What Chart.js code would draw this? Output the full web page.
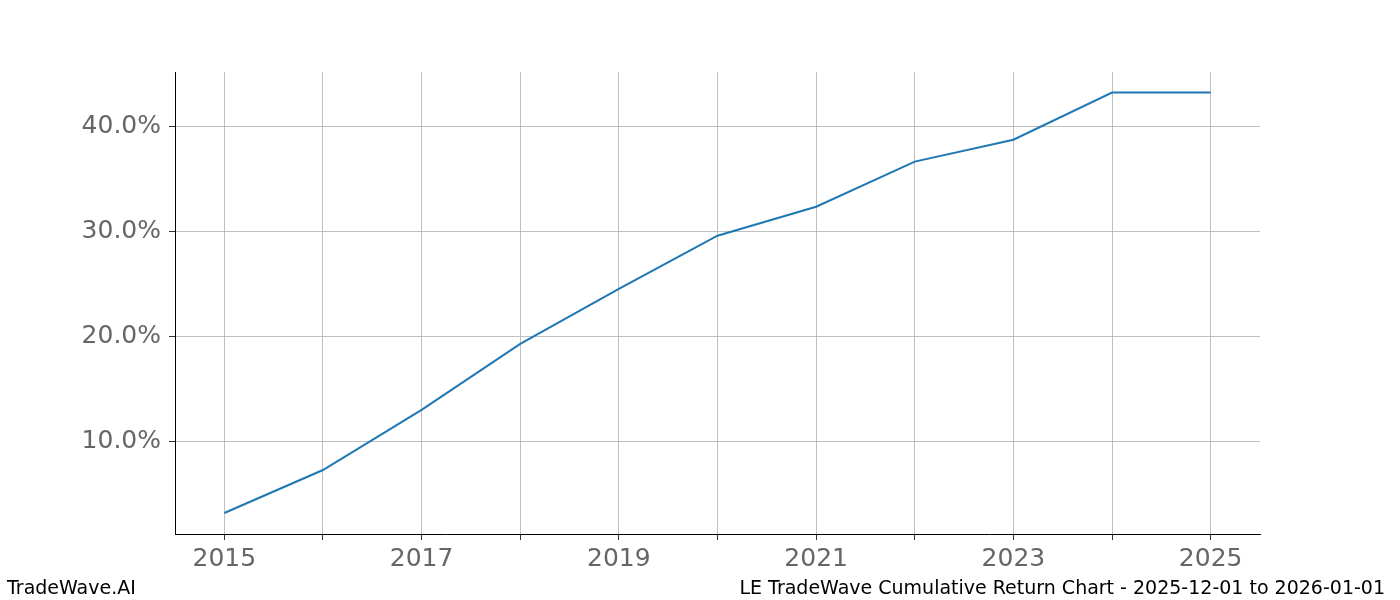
<!DOCTYPE html>
<html lang="en">
<head>
<meta charset="UTF-8" />
<title>LE Cumulative Return</title>
<script src="https://cdn.jsdelivr.net/npm/chart.js@4"></script>
<style>body{margin:0;background:#fff}</style>
</head>
<body>
<canvas id="myChart" width="1400" height="600"></canvas>
<script>
const years = [2015, 2016, 2017, 2018, 2019, 2020, 2021, 2022, 2023, 2024, 2025];
const cumulativeReturn = [3.24, 7.33, 13.05, 19.33, 24.57, 29.62, 32.38, 36.67, 38.76, 43.24, 43.24];
const yTicks = [10, 20, 30, 40];
const footerLeft = "TradeWave.AI";
const footerRight = "LE TradeWave Cumulative Return Chart - 2025-12-01 to 2026-01-01";

const footer = {
  id: "footer",
  afterDraw(chart) {
    const c = chart.ctx;
    c.save();
    c.fillStyle = "#000";
    c.font = "19px 'DejaVu Sans'";
    c.textBaseline = "alphabetic";
    c.textAlign = "left";
    c.fillText(footerLeft, 7, 594);
    c.textAlign = "right";
    c.fillText(footerRight, 1385, 594);
    c.restore();
  }
};

new Chart(document.getElementById("myChart"), {
  type: "line",
  data: {
    datasets: [{
      data: years.map((y, i) => ({ x: y, y: cumulativeReturn[i] })),
      borderColor: "#1f77b4",
      borderWidth: 2,
      pointRadius: 0,
      tension: 0
    }]
  },
  options: {
    responsive: false,
    animation: false,
    layout: { padding: { top: 72, right: 140, left: 0, bottom: 0 } },
    plugins: { legend: { display: false }, tooltip: { enabled: false } },
    scales: {
      x: {
        type: "linear",
        min: 2014.5,
        max: 2025.5,
        afterBuildTicks: (s) => { s.ticks = years.map(v => ({ value: v })); },
        afterFit: (s) => { s.height = 66; },
        ticks: {
          callback: (v) => (v % 2 === 1 ? String(v) : ""),
          color: "#666",
          font: { family: "DejaVu Sans", size: 25 },
          maxRotation: 0,
          autoSkip: false,
          padding: 4
        },
        grid: { color: "#b0b0b0", lineWidth: 0.8, tickLength: 6, tickColor: "#000" },
        border: { color: "#000", width: 1 }
      },
      y: {
        min: 1.24,
        max: 45.2,
        afterBuildTicks: (s) => { s.ticks = yTicks.map(v => ({ value: v })); },
        afterFit: (s) => { s.width = 175; },
        ticks: {
          callback: (v) => v.toFixed(1) + "%",
          color: "#666",
          font: { family: "DejaVu Sans", size: 25 },
          padding: 8
        },
        grid: { color: "#b0b0b0", lineWidth: 0.8, tickLength: 6, tickColor: "#000" },
        border: { color: "#000", width: 1 }
      }
    }
  },
  plugins: [footer]
});
</script>
</body>
</html>
